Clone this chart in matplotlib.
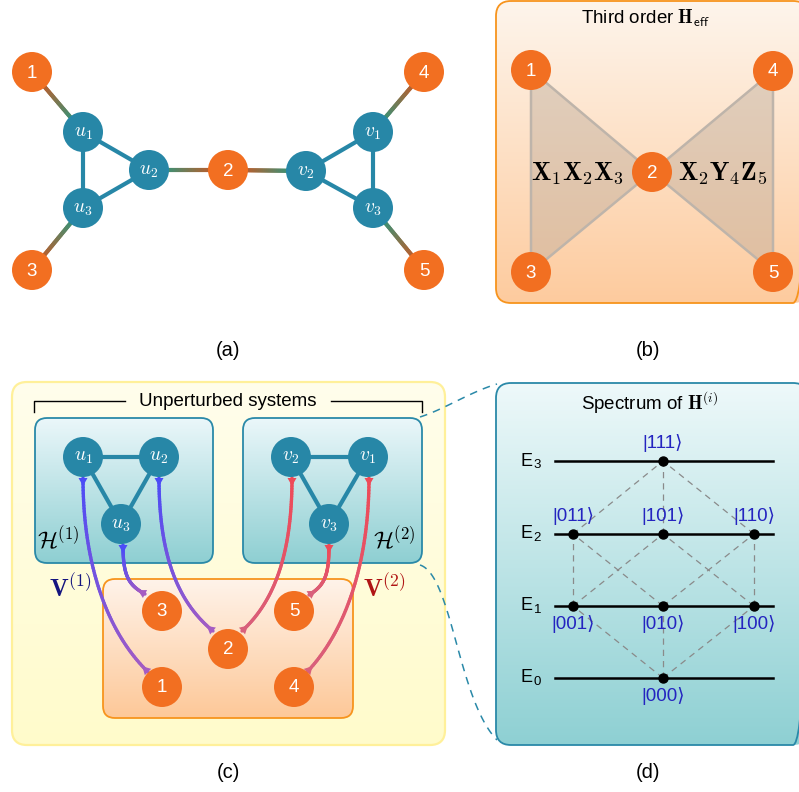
import numpy as np
import matplotlib
matplotlib.use("Agg")
import matplotlib.pyplot as plt
from matplotlib.patches import Circle, FancyBboxPatch, Polygon
from matplotlib.collections import LineCollection
from matplotlib.colors import to_rgb

plt.rcParams['font.family'] = ['Liberation Sans', 'DejaVu Sans']
plt.rcParams['mathtext.fontset'] = 'cm'

ORANGE = '#F26F21'
TEAL = '#2787A7'
NODE_R = 20

# ---- (a) interaction graph ----
a_orange = {'1': (32, 72), '2': (228, 170), '3': (32, 270), '4': (424, 72), '5': (424, 270)}
a_teal = {'u_1': (83, 132), 'u_2': (149, 170), 'u_3': (83, 208),
          'v_1': (373, 132), 'v_2': (306, 171), 'v_3': (373, 208)}
a_teal_edges = [('u_1', 'u_2'), ('u_1', 'u_3'), ('u_2', 'u_3'),
                ('v_1', 'v_2'), ('v_1', 'v_3'), ('v_2', 'v_3')]
a_mixed_edges = [('1', 'u_1'), ('3', 'u_3'), ('2', 'u_2'), ('2', 'v_2'), ('4', 'v_1'), ('5', 'v_3')]

# ---- (b) effective Hamiltonian ----
b_nodes = {'1': (531, 70), '2': (652, 172), '3': (531, 272), '4': (773, 71), '5': (773, 272)}
b_triangles = [('1', '2', '3'), ('4', '2', '5')]
b_terms = [r'$\mathbf{X}_1\mathbf{X}_2\mathbf{X}_3$', r'$\mathbf{X}_2\mathbf{Y}_4\mathbf{Z}_5$']
b_term_pos = [(578, 173), (723, 173)]

# ---- (c) unperturbed systems ----
c_teal = {'u_1': (83, 457), 'u_2': (159, 457), 'u_3': (121, 524),
          'v_2': (291, 457), 'v_1': (368, 457), 'v_3': (329, 524)}
c_teal_edges = [('u_1', 'u_2'), ('u_1', 'u_3'), ('u_2', 'u_3'),
                ('v_1', 'v_2'), ('v_1', 'v_3'), ('v_2', 'v_3')]
c_orange = {'3': (162, 611), '5': (294, 611), '2': (228, 649), '1': (162, 687), '4': (294, 687)}
# coupling curves: (control polygon, family)
c_couplings = [
    ([(83, 478), (83, 560), (105, 630), (148, 672)], 'V1'),
    ([(123, 545), (123, 575), (128, 585), (145, 594)], 'V1'),
    ([(159, 478), (159, 550), (175, 600), (213, 631)], 'V1'),
    ([(292, 478), (292, 550), (276, 600), (242, 631)], 'V2'),
    ([(329, 545), (329, 575), (325, 585), (309, 595)], 'V2'),
    ([(369, 478), (369, 560), (347, 630), (307, 672)], 'V2'),
]

# ---- (d) spectrum ----
level_names = ['3', '2', '1', '0']
level_y = [461, 534, 606, 678]
state_x = [573, 663, 754]
states = {'111': (1, 0), '011': (0, 1), '101': (1, 1), '110': (2, 1),
          '001': (0, 2), '010': (1, 2), '100': (2, 2), '000': (1, 3)}
below = {'001', '010', '100', '000'}


fig = plt.figure(figsize=(7.99, 7.92), dpi=100)
ax = fig.add_axes([0, 0, 1, 1])
ax.axis('off')


def grad_box(x0, y0, x1, y1, ctop, cbot, edge, lw, rad, z):
    p = FancyBboxPatch((x0, y0), x1 - x0, y1 - y0,
                       boxstyle=f"round,pad=0,rounding_size={rad}",
                       fc='none', ec=edge, lw=lw, zorder=z + 0.1)
    ax.add_patch(p)
    t = np.linspace(0, 1, 256)[:, None]
    c0, c1 = np.array(to_rgb(ctop)), np.array(to_rgb(cbot))
    img = (c0 * (1 - t) + c1 * t)[:, None, :]
    im = ax.imshow(img, extent=(x0, x1, y1, y0), aspect='auto', zorder=z,
                   interpolation='bilinear')
    im.set_clip_path(p)


def grad_path(pts, c0, c1, lw, z):
    pts = np.asarray(pts, float)
    segs = np.stack([pts[:-1], pts[1:]], axis=1)
    t = np.linspace(0, 1, len(segs))[:, None]
    cols = np.array(to_rgb(c0)) * (1 - t) + np.array(to_rgb(c1)) * t
    ax.add_collection(LineCollection(segs, colors=cols, linewidths=lw,
                                     capstyle='round', zorder=z))


def bezier(ctrl, n=80):
    P = np.asarray(ctrl, float)
    t = np.linspace(0, 1, n)[:, None]
    return ((1 - t) ** 3) * P[0] + 3 * ((1 - t) ** 2) * t * P[1] + \
        3 * (1 - t) * t ** 2 * P[2] + t ** 3 * P[3]


def tip(p, d, color, z, w=4.5, L=8):
    d = np.asarray(d, float)
    d = d / np.hypot(*d)
    n = np.array([-d[1], d[0]])
    p = np.asarray(p, float)
    ax.add_patch(Polygon([p + n * w, p - n * w, p + d * L], closed=True,
                         fc=color, ec='none', zorder=z))


def node(xy, label, color, z=5, fs=13.5):
    ax.add_patch(Circle(xy, NODE_R, fc=color, ec='none', zorder=z))
    ax.text(xy[0], xy[1] + 1, label, color='white', fontsize=fs,
            ha='center', va='center', zorder=z + 0.5)


# ================= (a) =================
for a, b in a_teal_edges:
    ax.plot(*zip(a_teal[a], a_teal[b]), color=TEAL, lw=3.0, zorder=3,
            solid_capstyle='butt')
for o, t in a_mixed_edges:
    p0, p1 = np.array(a_orange[o], float), np.array(a_teal[t], float)
    s = np.linspace(0, 1, 40)[:, None]
    grad_path(p0 + (p1 - p0) * s, '#EE4A10', '#10A28E', 3.0, 3)
for k, xy in a_orange.items():
    node(xy, k, ORANGE)
for k, xy in a_teal.items():
    node(xy, f'${k}$', TEAL, fs=14)
ax.text(228, 350, '(a)', fontsize=14.5, ha='center', va='center')

# ================= (b) =================
grad_box(496, 1, 808, 303, '#FEF5EC', '#FDCB9E', '#F7941D', 1.3, 15, 1)
for tri in b_triangles:
    ax.add_patch(Polygon([b_nodes[k] for k in tri], closed=True,
                         fc='#B8A898', alpha=0.42, ec='none', zorder=2))
    ax.add_patch(Polygon([b_nodes[k] for k in tri], closed=True,
                         fc='none', ec='#BEB4AA', lw=1.8, zorder=2.2))
for k, xy in b_nodes.items():
    node(xy, k, ORANGE)
for s, xy in zip(b_terms, b_term_pos):
    ax.text(xy[0], xy[1], s, fontsize=18.5, ha='center', va='center', zorder=6)
ax.text(645, 18, r'Third order $\mathbf{H}_{\mathsf{eff}}$', fontsize=13.5,
        ha='center', va='center', zorder=6)
ax.text(648, 350, '(b)', fontsize=14.5, ha='center', va='center')

# ================= (c) =================
grad_box(12, 382, 445, 745, '#FFFEEC', '#FFFBCB', '#FFF09A', 1.6, 15, 0.5)
ax.plot([34, 34, 125], [412, 401, 401], color='black', lw=1.0, zorder=6)
ax.plot([331, 422, 422], [401, 401, 412], color='black', lw=1.0, zorder=6)
ax.text(228, 401, 'Unperturbed systems', fontsize=13.5, ha='center',
        va='center', zorder=6)
grad_box(35, 418, 213, 563, '#EBF7FA', '#8ECFD2', '#2A89A8', 1.3, 12, 1)
grad_box(243, 418, 422, 563, '#EBF7FA', '#8ECFD2', '#2A89A8', 1.3, 12, 1)
grad_box(103, 579, 353, 718, '#FFF3EA', '#FDC898', '#F7941D', 1.3, 12, 1.2)
for a, b in c_teal_edges:
    ax.plot(*zip(c_teal[a], c_teal[b]), color=TEAL, lw=3.0, zorder=3,
            solid_capstyle='butt')
for ctrl, fam in c_couplings:
    pts = bezier(ctrl)
    if fam == 'V1':
        c0, c1 = '#4C4CF6', '#A55CC2'
    else:
        c0, c1 = '#EE4A58', '#D8607C'
    grad_path(pts, c0, c1, 2.4, 4)
    tip(pts[0], pts[1] - pts[0], c0, 4.5)
    tip(pts[-1], pts[-2] - pts[-1], c1, 4.5)
for k, xy in c_orange.items():
    node(xy, k, ORANGE)
for k, xy in c_teal.items():
    node(xy, f'${k}$', TEAL, fs=14)
ax.text(58, 540, r'$\mathcal{H}^{(1)}$', fontsize=17, ha='center',
        va='center', zorder=6)
ax.text(394, 540, r'$\mathcal{H}^{(2)}$', fontsize=17, ha='center',
        va='center', zorder=6)
ax.text(70, 588, r'$\mathbf{V}^{(1)}$', fontsize=18, color='#15157F',
        ha='center', va='center', zorder=6)
ax.text(384, 588, r'$\mathbf{V}^{(2)}$', fontsize=18, color='#B01515',
        ha='center', va='center', zorder=6)
ax.text(228, 773, '(c)', fontsize=14.5, ha='center', va='center')

# connectors between (c) and (d)
up = bezier([(420, 417), (445, 409), (470, 392), (497, 384)])
lo = bezier([(420, 565), (452, 575), (458, 700), (497, 740)])
for pts in (up, lo):
    ax.plot(pts[:, 0], pts[:, 1], color='#2A89A8', lw=1.1,
            dashes=(5, 4), zorder=0.8)

# ================= (d) =================
grad_box(496, 383, 808, 745, '#EEF9FA', '#8ED0D3', '#2A89A8', 1.3, 15, 1)
ax.text(650, 403, r'Spectrum of $\mathbf{H}^{(i)}$', fontsize=13.5,
        ha='center', va='center', zorder=6)
for n, y in zip(level_names, level_y):
    ax.plot([555, 773], [y, y], color='black', lw=1.8, zorder=3)
    ax.text(533, y, 'E', fontsize=13, ha='right', va='center', zorder=6)
    ax.text(533.5, y + 4, n, fontsize=9.5, ha='left', va='center', zorder=6)


def spos(s):
    i, l = states[s]
    return state_x[i], level_y[l]


# transitions flip one bit
for s1 in states:
    for s2 in states:
        if s1 < s2 and sum(a != b for a, b in zip(s1, s2)) == 1:
            (x1, y1), (x2, y2) = spos(s1), spos(s2)
            ax.plot([x1, x2], [y1, y2], color='#8A8A8A', lw=0.9,
                    dashes=(5, 4), zorder=2)
for s in states:
    x, y = spos(s)
    ax.plot(x, y, 'o', color='black', ms=6.5, zorder=4)
    dy = 18 if s in below else -18
    ax.text(x, y + dy, f'|{s}\u27e9', fontsize=13.5,
            color='#2424C0', ha='center', va='center', zorder=6)
ax.text(648, 773, '(d)', fontsize=14.5, ha='center', va='center')

ax.set_xlim(0, 799)
ax.set_ylim(792, 0)
fig.savefig('out.png', dpi=100)
